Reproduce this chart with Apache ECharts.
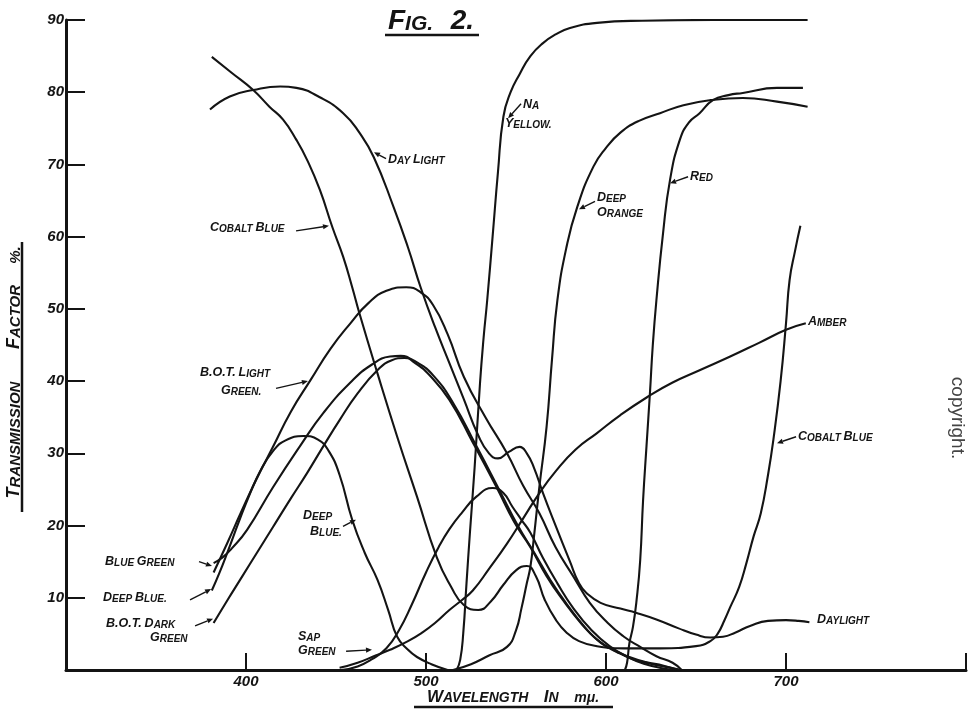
<!DOCTYPE html>
<html><head><meta charset="utf-8">
<script src="https://cdn.jsdelivr.net/npm/echarts@6/dist/echarts.min.js"></script>
<style>html,body{margin:0;padding:0;background:#fff}#c{width:970px;height:712px}</style>
</head><body><div id="c"></div>
<script>
// ---------- tick labels ----------
const xTickLabels = ['400', '500', '600', '700'];
const yTickLabels = ['10', '20', '30', '40', '50', '60', '70', '80', '90'];

// ---------- series values: [wavelength mμ, transmission %] ----------
const daylight = [[380,77.6],[391,79.4],[404,80.3],[419,80.8],[428,80.6],[441,79.3],[454,77.1],[463,74.4],[471,71],[482,64.1],[490,58.5],[497,53],[505,47.5],[513,42.5],[521,37.5],[529,32.5],[535,30],[540,29.3],[546,30.2],[552,30.9],[556,30],[560,28],[565,24.5],[572,20],[580,15],[585,12],[589,10.7],[597,9.3],[608,8.5],[617,7.9],[628,7],[640,5.8],[650,4.9],[658,4.5],[665,4.6],[672,5.2],[680,6.1],[690,6.8],[700,6.9],[707,6.8],[713,6.6]];
const cobaltBlue = [[381,84.9],[392,82.7],[404,80.3],[413,78],[420.6,76.2],[428,73.4],[434,70.6],[441,66.5],[448,61.3],[454,57.2],[459,53],[463,49.4],[473,41.1],[484,32.3],[495,24],[506,15.6],[514,11.5],[521,9],[529,8.3],[536,9.5],[543,11.8],[550,13.8],[556,14.4],[561,13],[566,9.7],[572,7],[578,5.2],[585,4],[595,3.3],[610,3],[630,3],[650,3.3],[658,4],[662,5],[666,7],[669,8.7],[674,11.5],[678,14.8],[682,18.5],[686,21.7],[690,27],[693,31.9],[697,40],[700,48],[702,54],[705,58],[708,61.5]];
const naYellow = [[517,0],[519,1.4],[520.7,5.1],[522.5,12],[524.4,19],[527,28],[530,39.7],[532,46],[534,51.2],[537,60],[540,69],[543,76.6],[547,80],[552,82.5],[558,85],[565,86.8],[572,88],[580,88.9],[595,89.6],[620,89.9],[660,90],[712,90]];
const deepOrange = [[515,0],[525,0.8],[535,2],[545,3.2],[550,5.5],[553,8.5],[556,12],[558,14.3],[560,18.5],[563,25.4],[567,33.7],[570,43],[573,51.2],[578,58.5],[584,64.1],[593,69.7],[600,72.3],[608,74.4],[618,76],[630,77.1],[643,78.2],[658,78.9],[676,79.2],[695,78.7],[712,78]];
const red = [[610.5,0],[611.7,1],[613,3.7],[615,6],[617,9.7],[619,15.2],[620.6,23.5],[622.5,31],[624.4,38.3],[626,45],[628,51.2],[631.7,60.5],[635.6,67.9],[641,73.4],[646,75.8],[652,77.1],[659.4,78.9],[668,79.6],[676,79.9],[695,80.6],[709.4,80.6]];
const amber = [[452,0.3],[462,1],[472,2],[480,2.8],[490,4],[498,5.2],[505,6.5],[513,8.3],[520,9.7],[526,11],[535,14],[545,17.5],[554,21],[563,24.5],[572,27.5],[583,30.5],[595,32.8],[608,35.3],[623,37.8],[637,39.8],[652,41.5],[669,43.4],[685,45.3],[700,47.1],[711,48]];
const botLightGreen = [[382,13.5],[390,17.8],[397,21.7],[405,26],[415,30.9],[425,35.8],[436,40.2],[447,44.5],[458,48],[468,50.8],[478,52.5],[489,53],[497,52.3],[504,50.5],[512,46.5],[521,40.6],[533,35],[545,30],[554,25.5],[563,21.7],[572,17],[582,12.9],[591,9.3],[601,6.5],[610,4.6],[619,3.2],[628,1.9],[637,1],[642,0]];
const blueGreen = [[382,14.8],[387,15.6],[392,16.8],[400.6,19.4],[415,25.3],[430,31],[443,35.6],[458,39.8],[470,42.3],[480,43.4],[486,43.5],[494,42.5],[502,40.8],[513,37.4],[526,31.5],[539,25.4],[549,20.5],[558,17],[567,13],[576,9.7],[586,6.5],[595,4.2],[604,2.8],[613,1.8],[622,1.1],[632,0.6],[640,0]];
const botDarkGreen = [[382,6.5],[390,9.8],[398,13],[406,16.2],[415,19.8],[425,23.8],[434,27.3],[443,31],[452,34.6],[462,38.3],[473,41.5],[481,42.9],[488,43.2],[495,42.6],[504,40.8],[515,37],[528,31],[541,24.8],[551,20],[560,16.3],[569,12.5],[578,9.2],[588,6],[597,3.8],[606,2.5],[615,1.5],[624,0.9],[634,0.4],[642,0]];
const deepBlue = [[381,11],[385,13.3],[390,16.5],[396,20.5],[402,24.3],[408,27.6],[415,30.3],[422,31.8],[432,32.4],[440,31.9],[446,30.3],[452,27],[459,20.8],[466,16.2],[473,12.5],[479,8.3],[484,4.6],[490,2.8],[495,1.8],[503,0.8],[512,0]];
const sapGreen = [[453,0],[462,0.5],[470,1.5],[478,3],[485,5.5],[492,9],[500,13.5],[507,17],[513,19.5],[520,21.8],[528,24],[537,25.2],[543,24.5],[548,22.6],[553,20.8],[558,19],[565,15.5],[573,12],[582,8.5],[592,5.5],[602,3.3],[612,1.8],[622,0.8],[632,0.2],[637,0]];

const curves = [
  ['Daylight', daylight], ['Cobalt Blue', cobaltBlue], ['Na Yellow', naYellow],
  ['Deep Orange', deepOrange], ['Red', red], ['Amber', amber],
  ['B.O.T. Light Green', botLightGreen], ['Blue Green', blueGreen],
  ['B.O.T. Dark Green', botDarkGreen], ['Deep Blue', deepBlue], ['Sap Green', sapGreen]
];

// ---------- annotation labels (data coordinates) ----------
const labels = [
  ['DAY LIGHT', [478.9, 70.6]],
  ['COBALT BLUE', [380, 61.2]],
  ['NA', [553.9, 78.2]], ['YELLOW.', [543.9, 75.6]],
  ['DEEP', [595, 65.4]], ['ORANGE', [595, 63.3]],
  ['RED', [646.7, 68.3]],
  ['AMBER', [712.2, 48.2]],
  ['COBALT BLUE', [706.7, 32.3]],
  ['DAYLIGHT', [717.2, 6.9]],
  ['B.O.T. LIGHT', [374.4, 41.1]], ['GREEN.', [386.1, 38.6]],
  ['DEEP', [431.7, 21.3]], ['BLUE.', [435.6, 19.1]],
  ['BLUE GREEN', [321.7, 15]],
  ['DEEP BLUE.', [320.6, 10]],
  ['B.O.T. DARK', [322.2, 6.4]], ['GREEN', [346.7, 4.4]],
  ['SAP', [428.9, 4.6]], ['GREEN', [428.9, 2.6]]
];
const arrows = [
  [[477.8, 70.8], [471.1, 71.7]],
  [[427.8, 60.8], [446.1, 61.5]],
  [[552.8, 78.4], [545.6, 76.4]],
  [[593.9, 64.9], [585, 63.8]],
  [[645.6, 68.3], [635.6, 67.4]],
  [[705.6, 32.3], [695, 31.4]],
  [[416.7, 39], [434.4, 40]],
  [[453.9, 19.9], [461.1, 20.8]],
  [[373.9, 15], [381.1, 14.4]],
  [[368.9, 9.7], [380.6, 11.2]],
  [[371.7, 6.1], [381.7, 7.1]],
  [[455.6, 2.6], [470, 2.8]]
];

const FONT = '"Liberation Sans", Arial, sans-serif';
const INK = '#141414';

function sc(t) {
  return t.split(' ').map(w => {
    if (!w) return '';
    if (/^([A-Z]\.)+$/.test(w)) return '{b|' + w + '}';
    return '{b|' + w[0] + '}' + (w.length > 1 ? '{s|' + w.slice(1) + '}' : '');
  }).join('{s| }');
}
function rich(big, small) {
  return {
    b: {fontSize: big, fontWeight: 'bold', fontStyle: 'italic', fontFamily: FONT, fill: INK, verticalAlign: 'bottom', lineHeight: big},
    s: {fontSize: small, fontWeight: 'bold', fontStyle: 'italic', fontFamily: FONT, fill: INK, verticalAlign: 'bottom', lineHeight: big}
  };
}

const chart = echarts.init(document.getElementById('c'));
const tickLabelStyle = {fontStyle: 'italic', fontWeight: 'bold', fontSize: 15, color: INK, fontFamily: FONT};

chart.setOption({
  animation: false,
  backgroundColor: '#fff',
  grid: {left: 66, right: 4, top: 20, bottom: 42, containLabel: false},
  xAxis: {
    type: 'value', min: 300, max: 800, interval: 100,
    axisLine: {lineStyle: {color: INK, width: 3}},
    axisTick: {inside: true, length: 17, lineStyle: {color: INK, width: 2}},
    axisLabel: Object.assign({margin: 4, formatter: v => xTickLabels.includes(String(v)) ? String(v) : ''}, tickLabelStyle),
    splitLine: {show: false}
  },
  yAxis: {
    type: 'value', min: 0, max: 90, interval: 10,
    axisLine: {lineStyle: {color: INK, width: 3}},
    axisTick: {inside: true, length: 19, lineStyle: {color: INK, width: 2}},
    axisLabel: Object.assign({margin: 2, formatter: v => yTickLabels.includes(String(v)) ? String(v) : ''}, tickLabelStyle),
    splitLine: {show: false}
  },
  series: curves.map(([name, data]) => ({
    type: 'line', name, data, smooth: 0.5,
    showSymbol: false, symbol: 'none', silent: true, z: 3,
    lineStyle: {color: INK, width: 2.1}
  }))
});

const g = [];
labels.forEach(([t, at]) => {
  const p = chart.convertToPixel({gridIndex: 0}, at);
  g.push({type: 'text', x: p[0], y: p[1], z: 10,
    style: {text: sc(t), rich: rich(12.5, 10), align: 'left', verticalAlign: 'middle'}});
});
arrows.forEach(([a, b]) => {
  const p = chart.convertToPixel({gridIndex: 0}, a);
  const q = chart.convertToPixel({gridIndex: 0}, b);
  const dx = q[0] - p[0], dy = q[1] - p[1], L = Math.hypot(dx, dy) || 1;
  const ux = dx / L, uy = dy / L;
  const bx = q[0] - ux * 6, by = q[1] - uy * 6;
  g.push({type: 'polyline', z: 10, shape: {points: [p, [bx, by]]}, style: {stroke: INK, lineWidth: 1.4, fill: null}});
  g.push({type: 'polygon', z: 10, shape: {points: [q, [bx - uy * 2.6, by + ux * 2.6], [bx + uy * 2.6, by - ux * 2.6]]}, style: {fill: INK}});
});
// title
g.push({type: 'text', x: 431, y: 21, z: 10, style: {text: '{b|F}{s|IG.}{s|   }{b|2.}', rich: rich(28, 21), align: 'center', verticalAlign: 'middle'}});
g.push({type: 'line', z: 10, shape: {x1: 385, y1: 35, x2: 479, y2: 35}, style: {stroke: INK, lineWidth: 2.5}});
// y-axis name
[['TRANSMISSION', 440], ['FACTOR', 317], ['%.', 255]].forEach(([t, y]) => {
  g.push({type: 'text', x: 14, y: y, rotation: Math.PI / 2, z: 10,
    style: {text: t === '%.' ? '{s|%.}' : sc(t), rich: rich(18, 15), align: 'center', verticalAlign: 'middle'}});
});
g.push({type: 'line', z: 10, shape: {x1: 22, y1: 242, x2: 22, y2: 512}, style: {stroke: INK, lineWidth: 2.5}});
// x-axis name
g.push({type: 'text', x: 513, y: 697, z: 10, style: {text: sc('WAVELENGTH') + '{s|    }' + sc('IN') + '{s|    }{s|mμ.}', rich: rich(17, 14), align: 'center', verticalAlign: 'middle'}});
g.push({type: 'line', z: 10, shape: {x1: 414, y1: 707, x2: 613, y2: 707}, style: {stroke: INK, lineWidth: 2.5}});
// copyright
g.push({type: 'text', x: 957, y: 418, rotation: -Math.PI / 2, z: 10,
  style: {text: 'copyright.', fontSize: 19, fontFamily: FONT, fill: '#444', align: 'center', verticalAlign: 'middle'}});

chart.setOption({graphic: g});
</script>
</body></html>
